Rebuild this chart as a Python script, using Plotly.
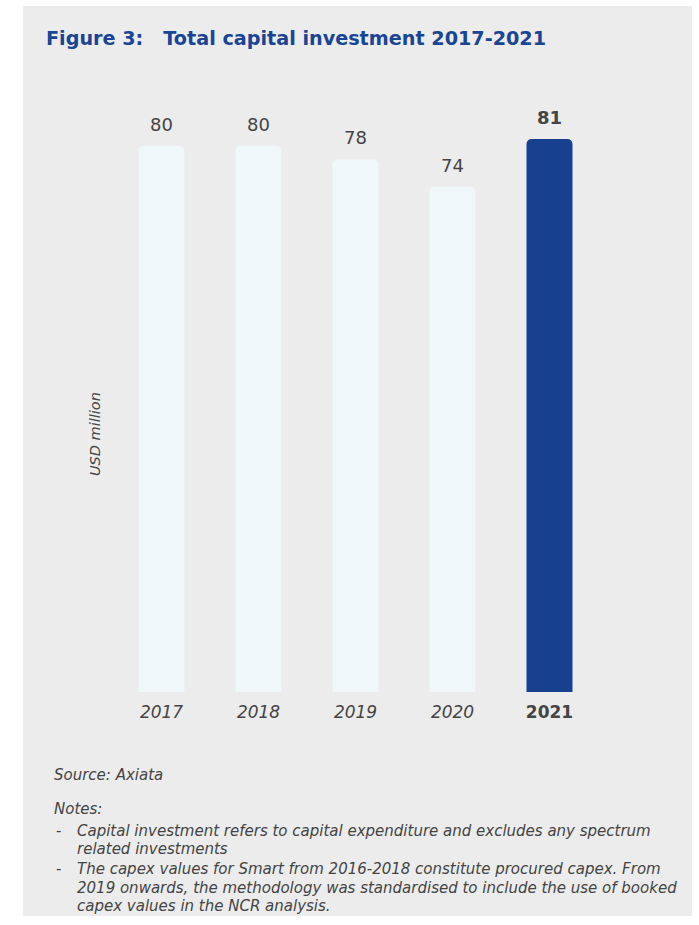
import plotly.graph_objects as go

# Capital investment, USD million
years = ["2017", "2018", "2019", "2020", "2021"]
values = [80, 80, 78, 74, 81]
highlight_year = "2021"

title_text = "Figure 3:   Total capital investment 2017-2021"
y_title = "USD million"
source_text = "Source: Axiata"
notes_heading = "Notes:"
notes = [
    ["Capital investment refers to capital expenditure and excludes any spectrum",
     "related investments"],
    ["The capex values for Smart from 2016-2018 constitute procured capex. From",
     "2019 onwards, the methodology was standardised to include the use of booked",
     "capex values in the NCR analysis."],
]

W, H = 699, 925
FONT = "DejaVu Sans"
TEXT = "#444444"
BLUE = "#17408f"
PALE = "#f0f7f9"
PANEL = "#ececec"


def px(x):
    return x / W


def py(y):
    return 1 - y / H


colors = [BLUE if y == highlight_year else PALE for y in years]
ticktext = [f"<b>{y}</b>" if y == highlight_year else f"<i>{y}</i>" for y in years]

fig = go.Figure(
    go.Bar(
        x=years,
        y=values,
        marker=dict(color=colors, line=dict(width=0)),
        hoverinfo="skip",
    )
)

annotations = []
# value labels above bars (x given as category index)
for i, (yr, v) in enumerate(zip(years, values)):
    bold = yr == highlight_year
    annotations.append(dict(
        x=i, y=v, xref="x", yref="y",
        text=f"<b>{v}</b>" if bold else str(v),
        showarrow=False, yanchor="bottom", yshift=9,
        font=dict(family=FONT, size=18, color=TEXT),
    ))

# title
annotations.append(dict(
    x=px(44), y=py(38), xref="paper", yref="paper",
    xanchor="left", yanchor="middle", showarrow=False,
    text=f"<b>{title_text}</b>",
    font=dict(family=FONT, size=19.2, color="#1a4594"),
))

# axis title
annotations.append(dict(
    x=px(95), y=py(434), xref="paper", yref="paper",
    xanchor="center", yanchor="middle", showarrow=False, textangle=-90,
    text=f"<i>{y_title}</i>",
    font=dict(family=FONT, size=14.5, color=TEXT),
))

# source and notes
small = dict(family=FONT, size=15, color=TEXT)
annotations.append(dict(
    x=px(52), y=py(775), xref="paper", yref="paper",
    xanchor="left", yanchor="middle", showarrow=False,
    text=f"<i>{source_text}</i>", font=small,
))
annotations.append(dict(
    x=px(52), y=py(809), xref="paper", yref="paper",
    xanchor="left", yanchor="middle", showarrow=False,
    text=f"<i>{notes_heading}</i>", font=small,
))
note_rows = [[831, 849], [869, 888, 906]]
for note, rows in zip(notes, note_rows):
    annotations.append(dict(
        x=px(54), y=py(rows[0]), xref="paper", yref="paper",
        xanchor="left", yanchor="middle", showarrow=False,
        text="-", font=small,
    ))
    for line, row in zip(note, rows):
        annotations.append(dict(
            x=px(75), y=py(row), xref="paper", yref="paper",
            xanchor="left", yanchor="middle", showarrow=False,
            text=f"<i>{line}</i>", font=small,
        ))

fig.update_layout(
    width=W, height=H,
    margin=dict(l=0, r=0, t=0, b=0),
    paper_bgcolor="white",
    plot_bgcolor="rgba(0,0,0,0)",
    showlegend=False,
    bargap=0.526,
    barcornerradius=5,
    xaxis=dict(
        type="category",
        range=[-0.5, len(years) - 0.5],
        domain=[px(113), px(598)],
        tickmode="array", tickvals=years, ticktext=ticktext,
        tickfont=dict(family=FONT, size=17, color=TEXT),
        ticks="outside", ticklen=5, tickcolor="rgba(0,0,0,0)",
        showgrid=False, zeroline=False, showline=False,
    ),
    yaxis=dict(
        domain=[py(692), py(90)],
        range=[0, 602 / 6.827],
        visible=False,
    ),
    shapes=[
        dict(
            type="rect", xref="paper", yref="paper", layer="below",
            x0=px(23), x1=px(692), y0=py(916), y1=py(6),
            fillcolor=PANEL, line=dict(width=0),
        ),
    ],
    annotations=annotations,
)

fig.write_html("out.html")
